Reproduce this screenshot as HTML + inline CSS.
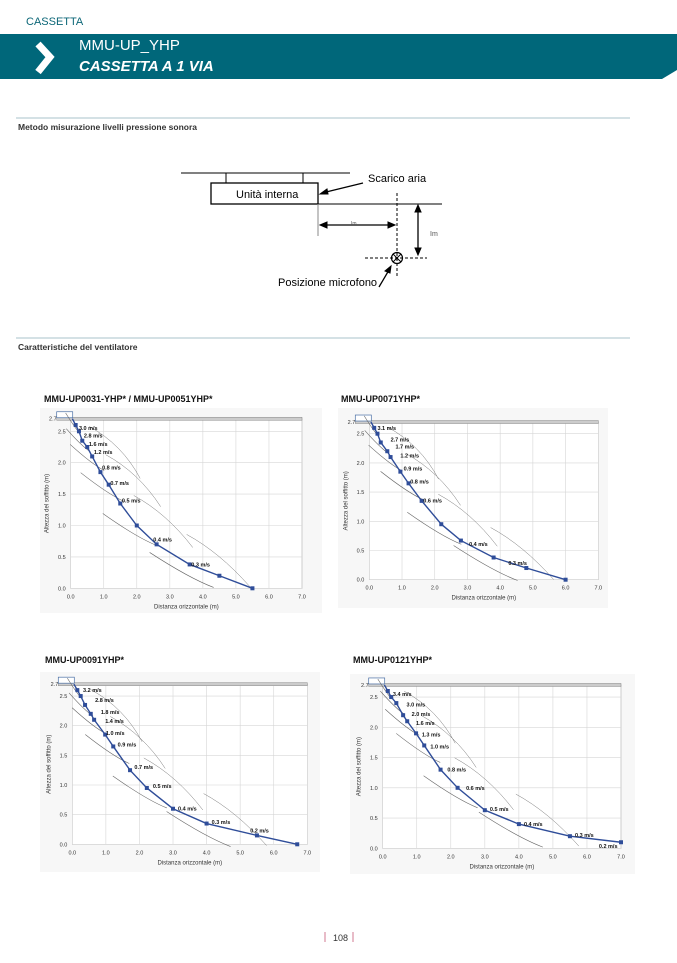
<!DOCTYPE html>
<html><head><meta charset="utf-8">
<style>
html,body{margin:0;padding:0;background:#fff;}
body{width:677px;height:958px;overflow:hidden;font-family:"Liberation Sans",sans-serif;}
svg text{font-family:"Liberation Sans",sans-serif;}
</style></head>
<body>
<svg id="page" width="677" height="958" viewBox="0 0 677 958" xmlns="http://www.w3.org/2000/svg">
  <text x="26" y="25" font-size="11" fill="#0b6677">CASSETTA</text>
  <polygon points="0,34 677,34 677,70 662,79 0,79" fill="#00677a"/>
  <polyline points="38,44 50,57 38,72" fill="none" stroke="#fff" stroke-width="7" stroke-linejoin="miter"/>
  <text x="79" y="50" font-size="15" fill="#fff">MMU-UP_YHP</text>
  <text x="79" y="71" font-size="15" fill="#fff" font-weight="bold" font-style="italic">CASSETTA A 1 VIA</text>

  <line x1="16" y1="118" x2="630" y2="118" stroke="#a9c3cb" stroke-width="1"/>
  <text x="18" y="130" font-size="8.5" font-weight="bold" fill="#333">Metodo misurazione livelli pressione sonora</text>

  <g stroke="#000" fill="none" stroke-width="1">
    <line x1="181" y1="173" x2="350" y2="173"/>
    <line x1="226" y1="173" x2="226" y2="183"/>
    <line x1="303" y1="173" x2="303" y2="183"/>
    <rect x="211" y="183" width="107" height="21" stroke-width="1.3"/>
    <line x1="318" y1="204" x2="442" y2="204"/>
    <line x1="318" y1="204" x2="318" y2="236" stroke="#888"/>
    <line x1="322" y1="225" x2="393" y2="225" stroke-width="1.3"/>
    <polygon points="320,225 327,222 327,228" fill="#000"/>
    <polygon points="395,225 388,222 388,228" fill="#000"/>
    <line x1="397" y1="193" x2="397" y2="278" stroke-dasharray="3,2"/>
    <line x1="418" y1="207" x2="418" y2="253" stroke-width="1.3"/>
    <polygon points="418,205 415,212 421,212" fill="#000"/>
    <polygon points="418,255 415,248 421,248" fill="#000"/>
    <line x1="365" y1="258" x2="427" y2="258" stroke-dasharray="3,2"/>
    <circle cx="397" cy="258" r="5.5" stroke-width="1.2"/>
    <line x1="393" y1="254" x2="401" y2="262"/>
    <line x1="401" y1="254" x2="393" y2="262"/>
    <line x1="363" y1="183" x2="322" y2="193" stroke-width="1.3"/>
    <polygon points="320,194 327,189 328,194" fill="#000"/>
    <line x1="379" y1="287" x2="389" y2="270" stroke-width="1.3"/>
    <polygon points="391,266 385,271 390,273" fill="#000"/>
  </g>
  <text x="236" y="198" font-size="11">Unità interna</text>
  <text x="368" y="182" font-size="11">Scarico aria</text>
  <text x="278" y="286" font-size="11">Posizione microfono</text>
  <text x="351" y="225" font-size="5" fill="#555">Im</text>
  <text x="430" y="236" font-size="7" fill="#555">Im</text>

  <line x1="16" y1="338" x2="630" y2="338" stroke="#a9c3cb" stroke-width="1"/>
  <text x="18" y="350" font-size="8.5" font-weight="bold" fill="#333">Caratteristiche del ventilatore</text>

  <g id="charts"></g>

  <line x1="325" y1="932" x2="325" y2="942" stroke="#d07a90"/>
  <text x="333" y="941" font-size="9" fill="#333">108</text>
  <line x1="353" y1="932" x2="353" y2="942" stroke="#d07a90"/>
</svg>
<script>
// Chart 1: MMU-UP0031-YHP* / MMU-UP0051YHP*
const c1X = [0.15,0.25,0.35,0.5,0.65,0.9,1.15,1.5,2.0,2.6,3.6,4.5,5.5];
const c1Y = [2.6,2.5,2.35,2.25,2.1,1.85,1.65,1.35,1.0,0.7,0.38,0.2,0.0];
const c1Labels = ["3.0 m/s","2.8 m/s","1.6 m/s","1.2 m/s","0.8 m/s","0.7 m/s","0.5 m/s","0.4 m/s","0.3 m/s"];
const c1LabelX = [0.25,0.4,0.55,0.7,0.95,1.2,1.55,2.5,3.65];
const c1LabelY = [2.55,2.43,2.3,2.17,1.92,1.68,1.4,0.78,0.38];
// Chart 2: MMU-UP0071YHP*
const c2X = [0.15,0.25,0.35,0.55,0.65,0.95,1.2,1.6,2.2,2.8,3.8,4.8,6.0];
const c2Y = [2.6,2.5,2.35,2.2,2.1,1.85,1.65,1.35,0.95,0.67,0.38,0.2,0.0];
const c2Labels = ["3.1 m/s","2.7 m/s","1.7 m/s","1.2 m/s","0.9 m/s","0.8 m/s","0.6 m/s","0.4 m/s","0.3 m/s"];
const c2LabelX = [0.25,0.65,0.8,0.95,1.05,1.25,1.65,3.05,4.25];
const c2LabelY = [2.6,2.4,2.28,2.13,1.9,1.68,1.36,0.61,0.29];
// Chart 3: MMU-UP0091YHP*
const c3X = [0.15,0.25,0.38,0.55,0.65,0.98,1.22,1.72,2.22,3.0,4.0,5.5,6.7];
const c3Y = [2.6,2.5,2.35,2.2,2.1,1.85,1.65,1.25,0.95,0.6,0.35,0.15,0.0];
const c3Labels = ["3.2 m/s","2.8 m/s","1.8 m/s","1.4 m/s","1.0 m/s","0.9 m/s","0.7 m/s","0.5 m/s","0.4 m/s","0.3 m/s","0.2 m/s"];
const c3LabelX = [0.32,0.68,0.85,0.98,1.0,1.35,1.85,2.4,3.15,4.15,5.3];
const c3LabelY = [2.6,2.43,2.23,2.08,1.88,1.68,1.3,0.98,0.6,0.38,0.23];
// Chart 4: MMU-UP0121YHP*
const c4X = [0.15,0.25,0.4,0.6,0.72,0.98,1.22,1.7,2.2,3.0,4.0,5.5,7.0];
const c4Y = [2.6,2.5,2.4,2.2,2.1,1.9,1.7,1.3,1.0,0.63,0.4,0.2,0.1];
const c4Labels = ["3.4 m/s","3.0 m/s","2.0 m/s","1.6 m/s","1.3 m/s","1.0 m/s","0.8 m/s","0.6 m/s","0.5 m/s","0.4 m/s","0.3 m/s","0.2 m/s"];
const c4LabelX = [0.3,0.7,0.85,0.98,1.15,1.4,1.9,2.45,3.15,4.15,5.65,6.35];
const c4LabelY = [2.55,2.38,2.22,2.07,1.88,1.68,1.3,1.0,0.65,0.4,0.22,0.04];
const xTicks = ["0.0","1.0","2.0","3.0","4.0","5.0","6.0","7.0"];
const yTicks = ["0.0","0.5","1.0","1.5","2.0","2.5"];

const NS = "http://www.w3.org/2000/svg";
const root = document.getElementById("charts");
function mk(tag, attrs, parent){
  const e = document.createElementNS(NS, tag);
  for (const k in attrs) e.setAttribute(k, attrs[k]);
  parent.appendChild(e);
  return e;
}
function drawChart(cfg, xs, ys, labels, lx, ly){
  const g = mk("g", {}, root);
  
  
  const sx = v => cfg.x0 + v * (cfg.x7 - cfg.x0) / 7;
  const sy = v => cfg.y0 - v * cfg.ppu;
  const bg = mk("rect", {x: cfg.bx, y: cfg.by, width: cfg.bw, height: cfg.bh, fill: "#f7f7f7"}, g);
  
  
  const pl = mk("rect", {x: sx(0), y: sy(2.7), width: sx(7) - sx(0), height: sy(0) - sy(2.7), fill: "#fff", stroke: "#999", "stroke-width": 0.6}, g);
  
  
  const t = mk("text", {x: cfg.tx, y: cfg.ty, "font-size": 9, "font-weight": "bold", fill: "#111"}, g);
  t.textContent = cfg.title;
  
  
  xTicks.forEach((lab, i) => {
    const v = parseFloat(lab);
    const gl = mk("line", {x1: sx(v), x2: sx(v), y1: sy(0), y2: sy(2.7), stroke: "#d6d6d6", "stroke-width": 0.6}, g);
    
    
    const tx = mk("text", {x: sx(v), y: sy(0) + 10, "font-size": 5.5, "text-anchor": "middle", fill: "#333"}, g);
    tx.textContent = lab;
    
    
  });
  yTicks.forEach((lab, i) => {
    const v = parseFloat(lab);
    const gl = mk("line", {x1: sx(0), x2: sx(7), y1: sy(v), y2: sy(v), stroke: "#d6d6d6", "stroke-width": 0.6}, g);
    
    
    const ty = mk("text", {x: sx(0) - 5, y: sy(v) + 2, "font-size": 5.5, "text-anchor": "end", fill: "#333"}, g);
    ty.textContent = lab;
    
    
  });
  const t27 = mk("text", {x: sx(0) - 14, y: sy(2.7) + 2, "font-size": 5.5, "text-anchor": "end", fill: "#333"}, g);
  t27.textContent = "2.7";
  
  
  const ceil = mk("rect", {x: sx(0) - 14, y: sy(2.7) - 1.5, width: sx(7) - sx(0) + 14, height: 3, fill: "#ccc", stroke: "#888", "stroke-width": 0.5}, g);
  
  
  const unit = mk("rect", {x: sx(0) - 14, y: sy(2.7) - 7, width: 16, height: 6, fill: "#fff", stroke: "#4a6fa5", "stroke-width": 0.7}, g);
  
  
  // decorative isovelocity contours
  for (let i = 0; i < xs.length - 1; i += 2) {
    const px = sx(xs[i]), py = sy(ys[i]);
    const c = mk("path", {d: `M${px - 10 - i*3},${py - 12} Q${px},${py + 4 + i} ${px + 4 + i*2},${py + 8 + i*1.5}`, fill: "none", stroke: "#666", "stroke-width": 0.6}, g);
    
    
  }
  for (let i = 4; i < xs.length - 1; i += 2) {
    const px = sx(xs[i]), py = sy(ys[i]);
    const c = mk("path", {d: `M${px - 3},${py - 30} Q${px + 30},${py - 12} ${px + 40 + i*2},${py + 22}`, fill: "none", stroke: "#777", "stroke-width": 0.5}, g);
    
    
  }
  const axX = mk("text", {x: (sx(0) + sx(7)) / 2, y: sy(0) + 20, "font-size": 6, "text-anchor": "middle", fill: "#333"}, g);
  axX.textContent = "Distanza orizzontale (m)";
  
  
  const yc = (sy(0) + sy(2.7)) / 2, xc = sx(0) - 22;
  const axY = mk("text", {x: xc, y: yc, "font-size": 6, "text-anchor": "middle", fill: "#333", transform: `rotate(-90 ${xc} ${yc})`}, g);
  axY.textContent = "Altezza del soffitto (m)";
  
  
  let d = `M${sx(0.05)},${sy(2.7)}`;
  xs.forEach((v, i) => { d += ` L${sx(v)},${sy(ys[i])}`; });
  const line = mk("path", {d: d, fill: "none", stroke: "#2f4d99", "stroke-width": 1.4}, g);
  
  
  xs.forEach((v, i) => {
    const p = mk("rect", {x: sx(v) - 2, y: sy(ys[i]) - 2, width: 4, height: 4, fill: "#2f4d99"}, g);
    
    
  });
  labels.forEach((lab, i) => {
    const l = mk("text", {x: sx(lx[i]), y: sy(ly[i]) + 2, "font-size": 5.5, "font-weight": "bold", fill: "#111"}, g);
    l.textContent = lab;
    
    
  });
}
drawChart({name: "chart-mmu-up0031-0051", title: "MMU-UP0031-YHP* / MMU-UP0051YHP*", tx: 44, ty: 402, x0: 70.7, x7: 302, y0: 588.3, ppu: 62.8, bx: 40, by: 408, bw: 282, bh: 205}, c1X, c1Y, c1Labels, c1LabelX, c1LabelY);
drawChart({name: "chart-mmu-up0071", title: "MMU-UP0071YHP*", tx: 341, ty: 402, x0: 369.3, x7: 598.3, y0: 579.7, ppu: 58.4, bx: 338, by: 408, bw: 270, bh: 200}, c2X, c2Y, c2Labels, c2LabelX, c2LabelY);
drawChart({name: "chart-mmu-up0091", title: "MMU-UP0091YHP*", tx: 45, ty: 663, x0: 72.3, x7: 307.3, y0: 844.3, ppu: 59.3, bx: 40, by: 672, bw: 280, bh: 200}, c3X, c3Y, c3Labels, c3LabelX, c3LabelY);
drawChart({name: "chart-mmu-up0121", title: "MMU-UP0121YHP*", tx: 353, ty: 663, x0: 382.7, x7: 621, y0: 848.3, ppu: 60.5, bx: 350, by: 674, bw: 285, bh: 200}, c4X, c4Y, c4Labels, c4LabelX, c4LabelY);
</script>
</body></html>
